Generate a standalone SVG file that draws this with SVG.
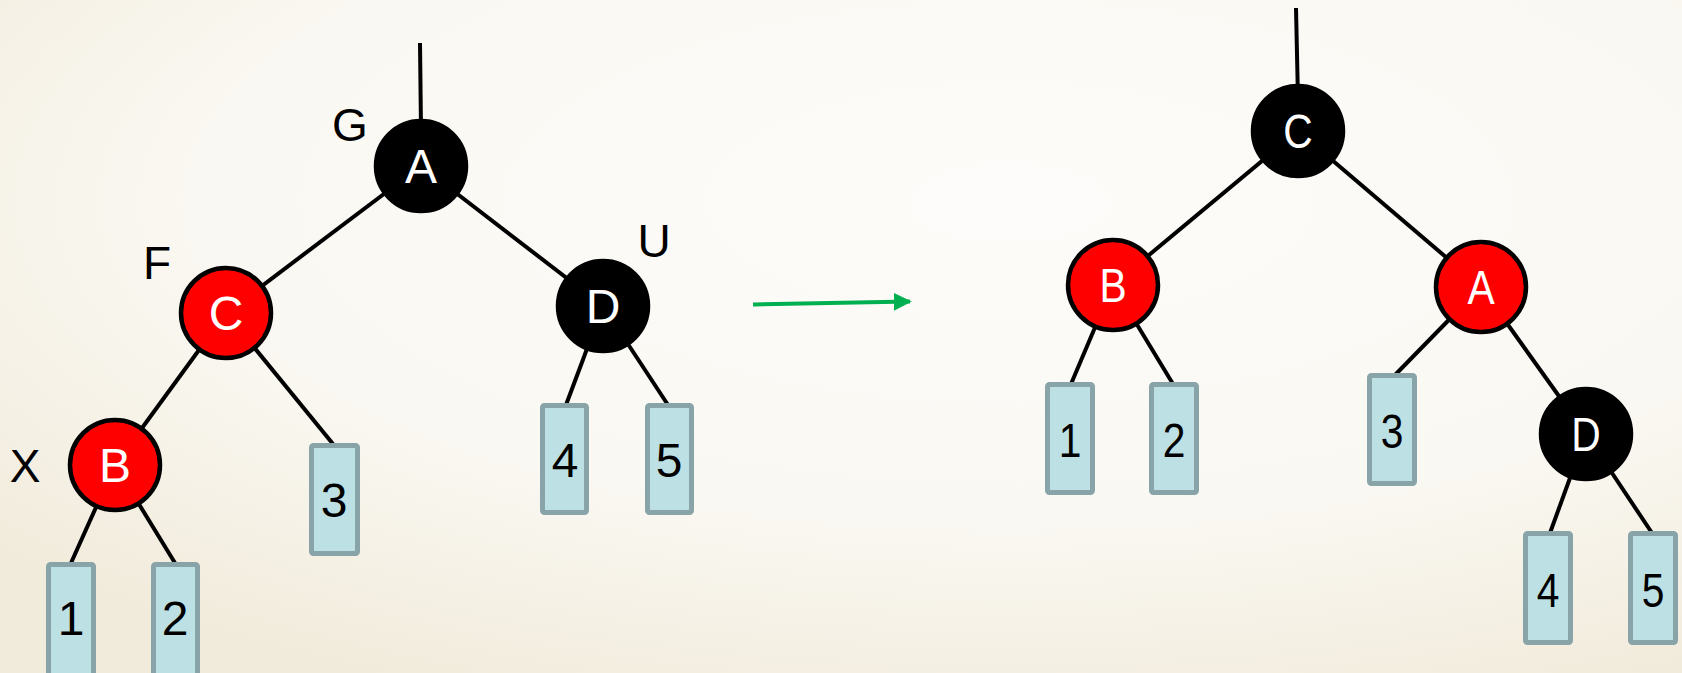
<svg xmlns="http://www.w3.org/2000/svg" width="1682" height="673" viewBox="0 0 1682 673">
<defs>
<radialGradient id="bg" cx="0.6" cy="0.3" r="0.8">
<stop offset="0" stop-color="#fdfcfa"/>
<stop offset="0.6" stop-color="#faf8f2"/>
<stop offset="1" stop-color="#f1ebdb"/>
</radialGradient>
<marker id="ah" viewBox="0 0 10 10" refX="9" refY="5" markerWidth="4.5" markerHeight="4.5" orient="auto" markerUnits="strokeWidth">
<path d="M0,0 L10,5 L0,10 z" fill="#00b050"/>
</marker>
<style>
.edge{stroke:#000;stroke-width:4;fill:none}
.blk{fill:#000;stroke:#000;stroke-width:4.5}
.red{fill:#ff0000;stroke:#000;stroke-width:4.5}
.leaf{fill:#bde0e4;stroke:#88a4a8;stroke-width:5}
.nl{font-family:"Liberation Sans",Arial,sans-serif;font-size:48px;fill:#fff;text-anchor:middle}
.ll{font-family:"Liberation Sans",Arial,sans-serif;font-size:48px;fill:#000;text-anchor:middle}
.tag{font-family:"Liberation Sans",Arial,sans-serif;font-size:46px;fill:#000;text-anchor:middle}
</style>
</defs>
<rect x="0" y="0" width="1682" height="673" fill="url(#bg)"/>
<g id="connectors">
<line class="edge" x1="420" y1="43" x2="421" y2="130"/>
<line class="edge" x1="421" y1="166" x2="226" y2="313"/>
<line class="edge" x1="421" y1="166" x2="603" y2="306"/>
<line class="edge" x1="226" y1="313" x2="115" y2="465"/>
<line class="edge" x1="226" y1="313" x2="333" y2="444"/>
<line class="edge" x1="115" y1="465" x2="71" y2="563"/>
<line class="edge" x1="115" y1="465" x2="175" y2="563"/>
<line class="edge" x1="603" y1="306" x2="566" y2="405"/>
<line class="edge" x1="603" y1="306" x2="668" y2="405"/>
<line class="edge" x1="1296" y1="8" x2="1298" y2="100"/>
<line class="edge" x1="1298" y1="131" x2="1113" y2="285"/>
<line class="edge" x1="1298" y1="131" x2="1481" y2="287"/>
<line class="edge" x1="1113" y1="285" x2="1071" y2="384"/>
<line class="edge" x1="1113" y1="285" x2="1173" y2="384"/>
<line class="edge" x1="1481" y1="287" x2="1395" y2="375"/>
<line class="edge" x1="1481" y1="287" x2="1586" y2="434"/>
<line class="edge" x1="1586" y1="434" x2="1550" y2="533"/>
<line class="edge" x1="1586" y1="434" x2="1652" y2="533"/>
<line x1="753" y1="304.5" x2="910" y2="301.5" stroke="#00b050" stroke-width="4" marker-end="url(#ah)"/>
</g>
<g id="tags">
<text class="tag" x="350" y="141">G</text>
<text class="tag" x="157" y="279">F</text>
<text class="tag" x="654" y="257">U</text>
<text class="tag" x="25" y="482">X</text>
</g>
<g id="L-A"><circle class="blk" cx="421" cy="166" r="45"/><text class="nl" x="421" y="183">A</text></g>
<g id="L-C"><circle class="red" cx="226" cy="313" r="45"/><text class="nl" x="226" y="330">C</text></g>
<g id="L-D"><circle class="blk" cx="603" cy="306" r="45"/><text class="nl" x="603" y="323">D</text></g>
<g id="L-B"><circle class="red" cx="115" cy="465" r="45"/><text class="nl" x="115" y="482">B</text></g>
<g id="L-1"><rect class="leaf" x="48.5" y="564.5" width="45" height="140" rx="2"/><text class="ll" x="71" y="635">1</text></g>
<g id="L-2"><rect class="leaf" x="153.5" y="564.5" width="44" height="140" rx="2"/><text class="ll" x="175" y="635">2</text></g>
<g id="L-3"><rect class="leaf" x="311.5" y="445.5" width="46" height="108" rx="2"/><text class="ll" x="334" y="517">3</text></g>
<g id="L-4"><rect class="leaf" x="542.5" y="405.5" width="44" height="107" rx="2"/><text class="ll" x="565" y="477">4</text></g>
<g id="L-5"><rect class="leaf" x="647.5" y="405.5" width="44" height="107" rx="2"/><text class="ll" x="669" y="477">5</text></g>
<g id="R-C"><circle class="blk" cx="1298" cy="131" r="45"/><text class="nl" transform="translate(1298 148) scale(0.85 1)">C</text></g>
<g id="R-B"><circle class="red" cx="1113" cy="285" r="45"/><text class="nl" transform="translate(1113 302) scale(0.85 1)">B</text></g>
<g id="R-A"><circle class="red" cx="1481" cy="287" r="45"/><text class="nl" transform="translate(1481 304) scale(0.85 1)">A</text></g>
<g id="R-D"><circle class="blk" cx="1586" cy="434" r="45"/><text class="nl" transform="translate(1586 451) scale(0.85 1)">D</text></g>
<g id="R-1"><rect class="leaf" x="1047.5" y="384.5" width="45" height="108" rx="2"/><text class="ll" transform="translate(1070 457) scale(0.85 1)">1</text></g>
<g id="R-2"><rect class="leaf" x="1151.5" y="384.5" width="45" height="108" rx="2"/><text class="ll" transform="translate(1174 457) scale(0.85 1)">2</text></g>
<g id="R-3"><rect class="leaf" x="1369.5" y="375.5" width="45" height="108" rx="2"/><text class="ll" transform="translate(1392 448) scale(0.85 1)">3</text></g>
<g id="R-4"><rect class="leaf" x="1525.5" y="533.5" width="45" height="109" rx="2"/><text class="ll" transform="translate(1548 607) scale(0.85 1)">4</text></g>
<g id="R-5"><rect class="leaf" x="1630.5" y="533.5" width="45" height="109" rx="2"/><text class="ll" transform="translate(1653 607) scale(0.85 1)">5</text></g>
</svg>
